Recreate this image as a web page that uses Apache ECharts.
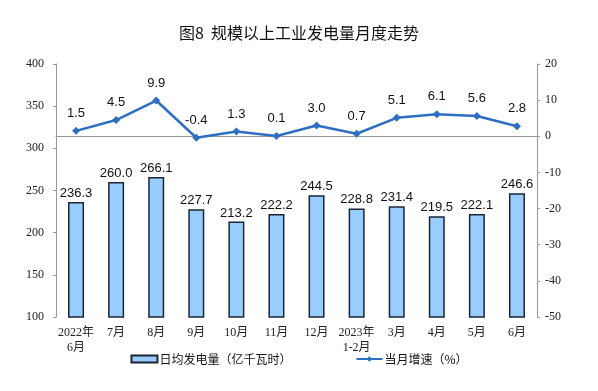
<!DOCTYPE html>
<html>
<head>
<meta charset="utf-8">
<script src="https://cdn.jsdelivr.net/npm/echarts@6/dist/echarts.min.js"></script>
<style>html,body{margin:0;padding:0;background:#fff;}#c{width:598px;height:391px;}</style>
</head>
<body>
<div id="c"></div>
<script>
const categories = ['2022年\n6月','7月','8月','9月','10月','11月','12月','2023年\n1-2月','3月','4月','5月','6月'];
const dailyOutput = [236.3, 260.0, 266.1, 227.7, 213.2, 222.2, 244.5, 228.8, 231.4, 219.5, 222.1, 246.6];
const growthRate = [1.5, 4.5, 9.9, -0.4, 1.3, 0.1, 3.0, 0.7, 5.1, 6.1, 5.6, 2.8];
const leftTicks = {min: 100, max: 400, interval: 50};
const rightTicks = {min: -50, max: 20, interval: 10};

const chart = echarts.init(document.getElementById('c'), null, {renderer: 'canvas'});
const axisFont = '"Liberation Serif", "Noto Sans CJK SC", serif';
chart.setOption({
  animation: false,
  backgroundColor: '#ffffff',
  title: {
    text: '图8  规模以上工业发电量月度走势',
    left: 'center',
    top: 20,
    textStyle: {fontSize: 16, fontWeight: 'normal', color: '#111', fontFamily: '"Noto Sans CJK SC", sans-serif'}
  },
  legend: {
    bottom: 21,
    left: 'center',
    itemGap: 64,
    itemWidth: 26,
    itemHeight: 7,
    textStyle: {fontSize: 12, color: '#111', fontFamily: '"Noto Sans CJK SC", sans-serif', padding: [0,0,0,-3]},
    data: [
      {name: '日均发电量（亿千瓦时）', icon: 'rect'},
      {name: '当月增速（%）'}
    ]
  },
  grid: {left: 56, right: 61, top: 64, bottom: 74},
  xAxis: {
    type: 'category',
    data: categories,
    axisLine: {lineStyle: {color: '#9a9a9a', width: 1}},
    axisTick: {inside: true, length: 4, lineStyle: {color: '#9a9a9a'}},
    axisLabel: {fontSize: 12, color: '#222', fontFamily: axisFont, lineHeight: 15, margin: 8, interval: 0}
  },
  yAxis: [
    {
      type: 'value', min: leftTicks.min, max: leftTicks.max, interval: leftTicks.interval,
      splitLine: {show: false},
      axisLine: {show: true, lineStyle: {color: '#9a9a9a'}},
      axisTick: {show: true, length: 3, lineStyle: {color: '#9a9a9a'}},
      axisLabel: {fontSize: 12, color: '#222', fontFamily: axisFont, margin: 12}
    },
    {
      type: 'value', min: rightTicks.min, max: rightTicks.max, interval: rightTicks.interval,
      splitLine: {show: false},
      axisLine: {show: true, lineStyle: {color: '#9a9a9a'}},
      axisTick: {show: true, length: 3, lineStyle: {color: '#9a9a9a'}},
      axisLabel: {fontSize: 12, color: '#222', fontFamily: axisFont, margin: 8}
    }
  ],
  series: [
    {
      name: '日均发电量（亿千瓦时）',
      type: 'bar',
      yAxisIndex: 0,
      data: dailyOutput,
      barWidth: 16,
      itemStyle: {color: '#99ccff', borderColor: '#1c2530', borderWidth: 1.5},
      label: {
        show: true, position: 'top', distance: 2,
        formatter: p => p.value.toFixed(1),
        fontSize: 13, color: '#111', fontFamily: '"Liberation Sans", Arial, sans-serif'
      }
    },
    {
      name: '当月增速（%）',
      type: 'line',
      yAxisIndex: 1,
      data: growthRate,
      symbol: 'diamond',
      symbolSize: 8,
      lineStyle: {color: '#2e6fc2', width: 2.5},
      itemStyle: {color: '#2e6fc2'},
      label: {
        show: true, position: 'top', distance: 7,
        formatter: p => p.value.toFixed(1),
        fontSize: 13, color: '#111', fontFamily: '"Liberation Sans", Arial, sans-serif'
      }
    }
  ]
});
</script>
</body>
</html>
